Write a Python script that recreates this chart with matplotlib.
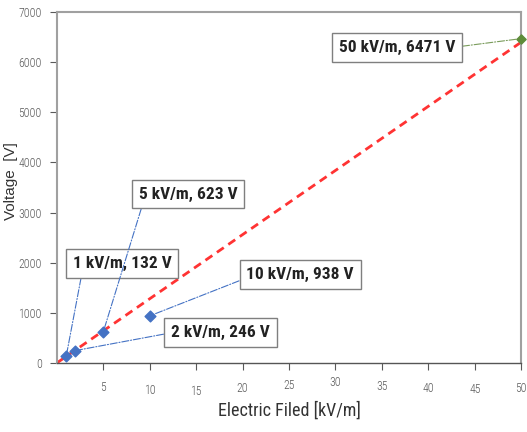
import numpy as np
import matplotlib
matplotlib.use("Agg")
import matplotlib.pyplot as plt
import matplotlib.transforms as mtransforms

plt.rcParams['font.family'] = ['Roboto Condensed', 'DejaVu Sans']

field = [1, 2, 5, 10, 50]
voltage = [132, 246, 623, 938, 6471]
labels = ["1 kV/m, 132 V", "2 kV/m, 246 V", "5 kV/m, 623 V",
          "10 kV/m, 938 V", "50 kV/m, 6471 V"]
label_pos = [(7.0, 1990), (17.6, 600), (14.1, 3370), (26.2, 1755), (36.6, 6300)]
label_rel = [(0.1, 0.0), (0.0, 0.5), (0.05, 0.0), (0.0, 0.3), (1.0, 0.5)]
x_ticks = [5, 10, 15, 20, 25, 30, 35, 40, 45, 50]
# the x tick labels in the source sit at slightly uneven heights (pixels)
x_tick_jitter = [0, -3, -4, -1, 2, 5, 1, -1, -2, -1]

fx = np.array(field, dtype=float)
fy = np.array(voltage, dtype=float)
slope = np.sum(fx * fy) / np.sum(fx * fx)

fig = plt.figure(figsize=(5.27, 4.32), dpi=100)
ax = fig.add_axes([0.108, 0.160, 0.881, 0.812])

xs = np.array([0, 50])
ax.plot(xs, slope * xs, color='#FF3333', lw=2, ls=(0, (3, 2)), zorder=2)

ax.scatter(field[:4], voltage[:4], marker='D', s=30, color='#4472C4', zorder=3)
ax.scatter(field[4:], voltage[4:], marker='D', s=22, color='#5E8C3A', zorder=3,
           clip_on=False)

for i in range(len(field)):
    lc = '#7A9C5C' if i == 4 else '#4472C4'
    ax.annotate(labels[i], xy=(field[i], voltage[i]), xytext=label_pos[i],
                ha='center', va='center', fontsize=12.5, fontweight='bold',
                color='#222222',
                bbox=dict(boxstyle='square,pad=0.4', fc='white', ec='#7F7F7F', lw=1),
                arrowprops=dict(arrowstyle='-', color=lc, lw=0.8, ls='-.',
                                relpos=label_rel[i], shrinkA=0, shrinkB=3),
                zorder=4)

ax.set_xlim(0, 50)
ax.set_ylim(0, 7000)
ax.set_xticks(x_ticks)
ax.set_yticks(range(0, 7001, 1000))
ax.tick_params(labelsize=8.5, colors='#595959', length=5, width=0.8, pad=6)
ax.tick_params(axis='x', pad=8)
for lab in ax.get_xticklabels() + ax.get_yticklabels():
    lab.set_fontweight('light')
for lab, dy in zip(ax.get_xticklabels(), x_tick_jitter):
    lab.set_transform(lab.get_transform() +
                      mtransforms.ScaledTranslation(0, dy / 100, fig.dpi_scale_trans))
for s in ['left', 'top', 'right']:
    ax.spines[s].set_color('#A0A0A0')
    ax.spines[s].set_linewidth(1.5)
ax.spines['bottom'].set_color('#555555')
ax.spines['bottom'].set_linewidth(1.0)

ax.set_xlabel("Electric Filed [kV/m]", fontsize=13, color='#333333', va='center')
ax.xaxis.set_label_coords(0.5, -0.135)
ax.set_ylabel("Voltage  [V]", fontsize=11, color='#333333', va='center',
              family=['Liberation Sans', 'DejaVu Sans'])
ax.yaxis.set_label_coords(-0.098, 0.518)

fig.savefig("out.png", dpi=100)
